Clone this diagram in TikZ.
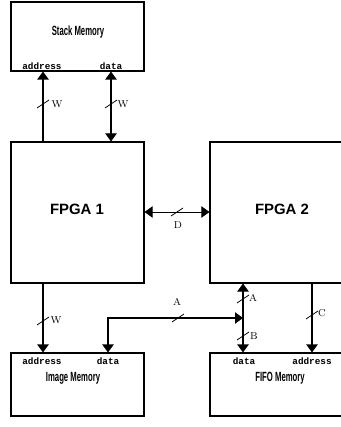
\documentclass[tikz,border=0pt]{standalone}
\usepackage{fontspec}
\newfontfamily\hv{Liberation Sans}
\newfontfamily\mono{Liberation Mono}
\usetikzlibrary{arrows.meta}
\begin{document}
\begin{tikzpicture}[x=0.75pt,y=-0.75pt,line width=0.8pt,
  >={Triangle[width=8.5pt,length=6pt]},
  box/.style={draw,rectangle,inner sep=0pt,line width=0.8pt},
  fpgalabel/.style={font=\hv\bfseries\fontsize{11.2}{12}\selectfont},
  memlabel/.style={font=\hv\bfseries\fontsize{10}{11}\selectfont,xscale=0.58},
  portlabel/.style={font=\mono\bfseries\fontsize{7}{8}\selectfont,inner sep=0pt},
  buslabel/.style={font=\fontsize{7.5}{8}\selectfont,inner sep=0pt},
  slash/.style={line width=0.6pt}]
\useasboundingbox (0,0) rectangle (341,427);
\clip (0,0) rectangle (341,427);
% boxes
\node[box,minimum width=99.75pt,minimum height=51.75pt] (stack) at (77.5,36.5) {};
\node[box,minimum width=99.75pt,minimum height=105.75pt] (f1) at (77.5,212.5) {};
\node[box,minimum width=112.5pt,minimum height=105.75pt] (f2) at (285,212.5) {};
\node[box,minimum width=99.75pt,minimum height=47.25pt] (img) at (77.5,384.5) {};
\node[box,minimum width=112.5pt,minimum height=47.25pt] (fifo) at (285,384.5) {};
% titles
\node[memlabel] (tstack) at (78,32) {Stack Memory};
\node[fpgalabel] (tf1) at (77,209) {FPGA 1};
\node[fpgalabel] (tf2) at (282,209) {FPGA 2};
\node[memlabel] (timg) at (73,378) {Image Memory};
\node[memlabel] (tfifo) at (280,378) {FIFO Memory};
% port labels
\node[portlabel] (sa) at (42,66) {address};
\node[portlabel] (sd) at (111,66) {data};
\node[portlabel] (ia) at (42,361) {address};
\node[portlabel] (id) at (108,361) {data};
\node[portlabel] (fd) at (244,361) {data};
\node[portlabel] (fa) at (312,361) {address};
% coordinates
\coordinate (x1) at (43,0);
\coordinate (x2) at (111,0);
\coordinate (x3) at (108,0);
\coordinate (x4) at (243,0);
\coordinate (x5) at (312,0);
\coordinate (yD) at (0,212);
\coordinate (bend) at (108,318);
\coordinate (junc) at (243,318);
% connectors
\draw[->] (f1.north -| x1) -- (stack.south -| x1);
\draw[<->] (f1.north -| x2) -- (stack.south -| x2);
\draw[->] (f1.south -| x1) -- (img.north -| x1);
\draw[<->,line width=0.6pt] (f1.east |- yD) -- (f2.west |- yD);
\draw[<->] (img.north -| x3) -- (bend) -- (junc);
\draw[<->] (f2.south -| x4) -- (fifo.north -| x4);
\draw[->] (f2.south -| x5) -- (fifo.north -| x5);
% bus slashes
\draw[slash] (37,108) -- (49,100);
\node[buslabel] (w1) at (57,104) {W};
\draw[slash] (105,108) -- (117,100);
\node[buslabel] (w2) at (123,104) {W};
\draw[slash] (37,325) -- (49,317);
\node[buslabel] (w3) at (56,320) {W};
\draw[slash] (171,216) -- (183,208);
\node[buslabel] (ld) at (178,225) {D};
\draw[slash] (172,322) -- (184,314);
\node[buslabel] (la) at (177,302) {A};
\draw[slash] (237,303) -- (249,295);
\node[buslabel] (la2) at (253,298) {A};
\draw[slash] (237,340) -- (249,332);
\node[buslabel] (lb) at (254,336) {B};
\draw[slash] (306,319) -- (318,311);
\node[buslabel] (lc) at (322,313) {C};
\end{tikzpicture}
\end{document}
